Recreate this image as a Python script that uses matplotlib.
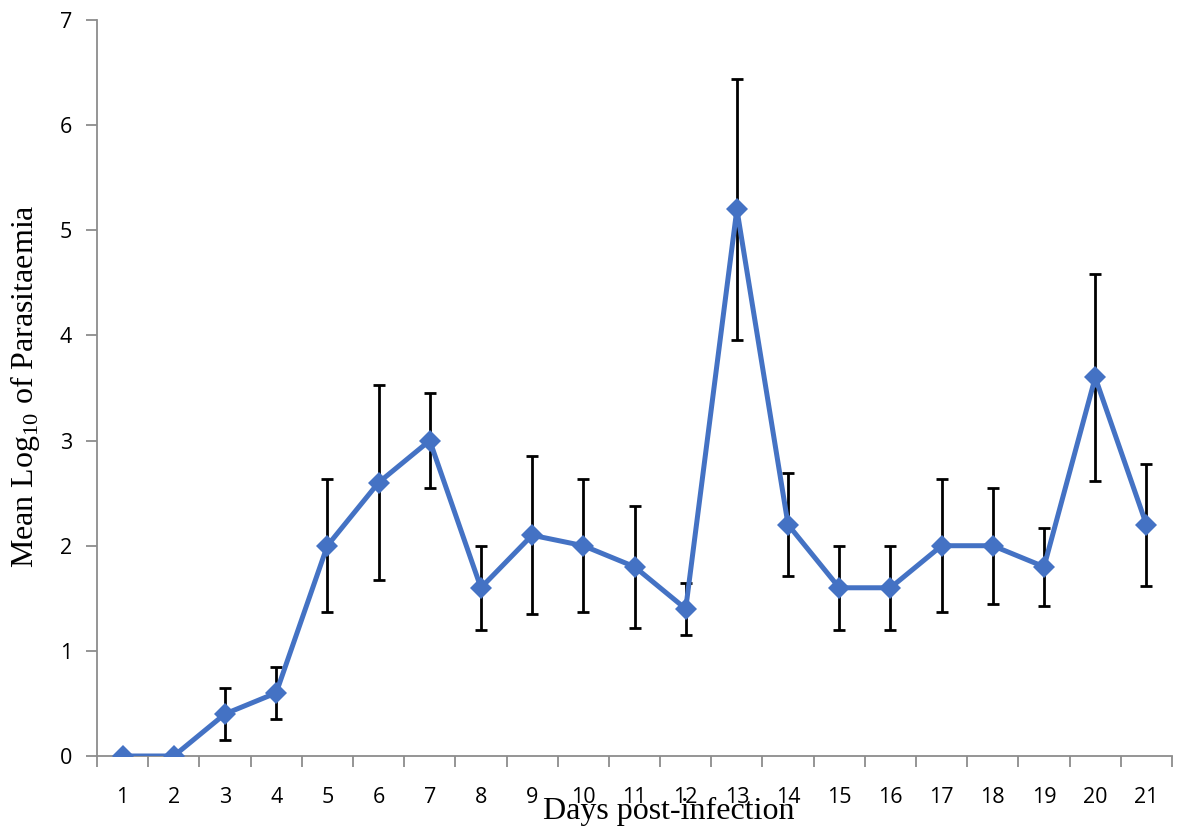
import matplotlib
matplotlib.use("Agg")
import matplotlib.pyplot as plt
import numpy as np

plt.rcParams.update({
    "font.family": "Open Sans",
    "mathtext.fontset": "custom",
    "mathtext.rm": "Liberation Serif",
})

# mean log10 parasitaemia per day, with error bar half-widths
days = list(range(1, 22))
mean_log = [0.0, 0.0, 0.4, 0.6, 2.0, 2.6, 3.0, 1.6, 2.1, 2.0, 1.8,
            1.4, 5.2, 2.2, 1.6, 1.6, 2.0, 2.0, 1.8, 3.6, 2.2]
err = [0.0, 0.0, 0.25, 0.25, 0.635, 0.93, 0.45, 0.4, 0.75, 0.635, 0.58,
       0.25, 1.24, 0.49, 0.4, 0.4, 0.63, 0.55, 0.37, 0.98, 0.58]

BLUE = "#4472C4"
AXIS_GREY = "#8C8C8C"

fig = plt.figure(figsize=(11.81, 8.35), dpi=100)
ax = fig.add_axes([97 / 1181, 79 / 835, 1075 / 1181, 736 / 835])

x = np.arange(len(days))
ax.errorbar(x, mean_log, yerr=err, fmt="none", ecolor="black",
            elinewidth=2.0, capsize=4.2, capthick=2.0, zorder=2)
ax.plot(x, mean_log, color=BLUE, lw=3.6, marker="D", ms=11,
        markeredgewidth=0, zorder=3)

ax.set_xlim(-0.5, len(days) - 0.5)
ax.set_ylim(0, 7)
ax.set_yticks(range(0, 8))

# labels at category centres, tick marks on category boundaries
ax.set_xticks(x)
ax.set_xticklabels([str(d) for d in days])
ax.set_xticks(np.arange(-0.5, len(days)), minor=True)
ax.tick_params(axis="x", which="major", length=0, pad=22, labelsize=15.5)
ax.tick_params(axis="x", which="minor", length=8, width=1.3, color=AXIS_GREY)
ax.tick_params(axis="y", length=8, width=1.3, color=AXIS_GREY, pad=10,
               labelsize=15.5)

for sp in ("top", "right"):
    ax.spines[sp].set_visible(False)
for sp in ("left", "bottom"):
    ax.spines[sp].set_color(AXIS_GREY)
    ax.spines[sp].set_linewidth(1.3)

fig.text(25 / 1181, 1 - 386 / 835, "Mean Log$_{\\mathrm{10}}$ of Parasitaemia",
         rotation=90, ha="center", va="center", fontsize=23,
         family="Liberation Serif")
fig.text(669 / 1181, 1 - 811 / 835, "Days post-infection", ha="center",
         va="center", fontsize=23, family="Liberation Serif")

fig.savefig("out.png", dpi=100)
